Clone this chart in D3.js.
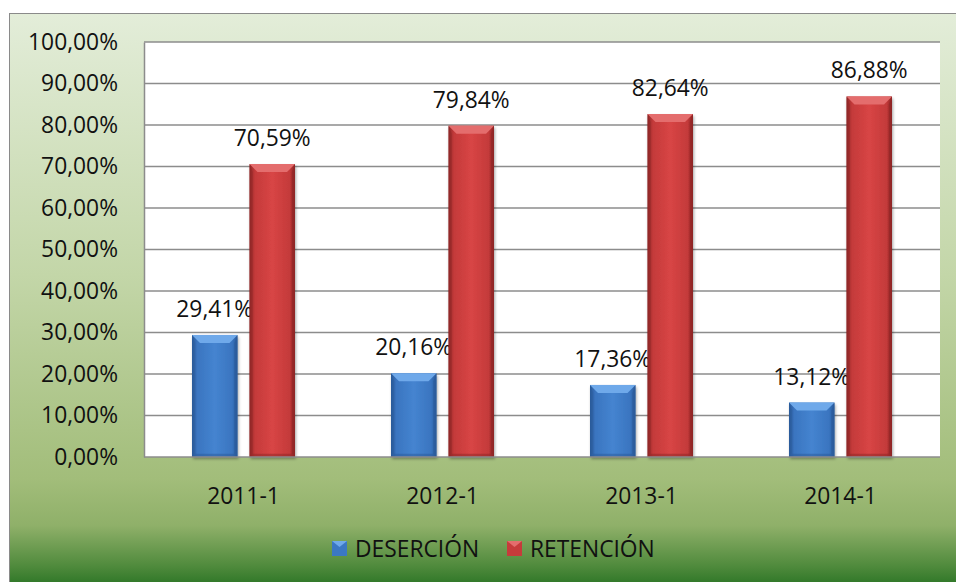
<!DOCTYPE html>
<html><head><meta charset="utf-8">
<script src="https://cdn.jsdelivr.net/npm/d3@7"></script>
<style>html,body{margin:0;padding:0;background:#fff;}svg{display:block;}</style>
</head><body>
<script>
const categories = ["2011-1","2012-1","2013-1","2014-1"];
const seriesNames = ["DESERCIÓN","RETENCIÓN"];
const desercion = [29.41, 20.16, 17.36, 13.12];
const retencion = [70.59, 79.84, 82.64, 86.88];
const tickValues = [0,10,20,30,40,50,60,70,80,90,100];

const W = 956, H = 582;
const font = "'Open Sans', sans-serif";
const fs = 22.8;
const svg = d3.select("body").append("svg").attr("width", W).attr("height", H);
const defs = svg.append("defs");

const bg = defs.append("linearGradient").attr("id","bg").attr("x1",0).attr("y1",0).attr("x2",0).attr("y2",1);
[[0,"#e3edd9"],[0.45,"#c3d6a8"],[0.8,"#a2bd7a"],[0.88,"#8fb069"],[0.95,"#4f8a3c"],[1,"#1b6b1b"]].forEach(s=>bg.append("stop").attr("offset",s[0]).attr("stop-color",s[1]));

function barGrad(id, c1, c2, c3){
  const g = defs.append("linearGradient").attr("id",id).attr("x1",0).attr("y1",0).attr("x2",1).attr("y2",0);
  [[0,c3],[0.12,c2],[0.5,c1],[0.88,c2],[1,c3]].forEach(s=>g.append("stop").attr("offset",s[0]).attr("stop-color",s[1]));
}
barGrad("gBlue","#4584d0","#3a75c0","#2a5a9a");
barGrad("gRed","#d84545","#c43a3a","#8e2626");
const colors = {"DESERCIÓN":{fill:"url(#gBlue)",top:"#6fa9ea",dark:"#2a5a9a",base:"#3b78c3"},
                "RETENCIÓN":{fill:"url(#gRed)",top:"#e46d6d",dark:"#8e2626",base:"#c63b3b"}};

const shadow = defs.append("filter").attr("id","sh").attr("x","-20%").attr("y","-10%").attr("width","140%").attr("height","130%");
shadow.append("feDropShadow").attr("dx",1).attr("dy",2).attr("stdDeviation",1.5).attr("flood-color","#000").attr("flood-opacity",0.35);

// outer background
svg.append("rect").attr("x",9.5).attr("y",13.5).attr("width",W).attr("height",H)
  .attr("fill","url(#bg)").attr("stroke","#8a8a8a").attr("stroke-width",1);

const plot = {l:144, t:42, r:940, b:457};
svg.append("rect").attr("x",plot.l).attr("y",plot.t).attr("width",plot.r-plot.l).attr("height",plot.b-plot.t).attr("fill","#fff");

const y = d3.scaleLinear().domain([0,100]).range([plot.b, plot.t]);
const x0 = d3.scaleBand().domain(categories).range([plot.l, plot.r]).paddingInner(0).paddingOuter(0);
const bw = 45.5, gap = 12;
const x1 = d3.scaleOrdinal().domain(seriesNames).range([-(gap/2+bw), gap/2]);

// gridlines
svg.append("g").selectAll("line").data(tickValues.filter(d=>d>0)).join("line")
  .attr("x1",plot.l).attr("x2",plot.r).attr("y1",d=>y(d)).attr("y2",d=>y(d))
  .attr("stroke","#8c8c8c").attr("stroke-width",1.5);

// y axis
const yAxis = d3.axisLeft(y).tickValues(tickValues).tickSize(0).tickPadding(26)
  .tickFormat(d=>d3.format(".2f")(d).replace(".",",")+"%");
const ga = svg.append("g").attr("transform",`translate(${plot.l},0)`).call(yAxis);
ga.select(".domain").attr("stroke","#8c8c8c").attr("stroke-width",1.5);
ga.selectAll("text").attr("font-family",font).attr("font-size",fs).attr("fill","#111");

// bars
const data = [];
categories.forEach((c,i)=>{
  data.push({cat:c, s:"DESERCIÓN", v:desercion[i]});
  data.push({cat:c, s:"RETENCIÓN", v:retencion[i]});
});
const bars = svg.append("g").selectAll("g").data(data).join("g")
  .attr("transform",d=>`translate(${x0(d.cat)+x0.bandwidth()/2 + x1(d.s)},0)`);
bars.append("rect").attr("x",0).attr("y",d=>y(d.v)).attr("width",bw).attr("height",d=>plot.b-y(d.v))
  .attr("fill",d=>colors[d.s].fill).attr("filter","url(#sh)");
// top bevel
const bev = 8;
bars.append("path").attr("d",d=>{const t=y(d.v);return `M0,${t}L${bw},${t}L${bw-bev},${t+bev}L${bev},${t+bev}Z`;})
  .attr("fill",d=>colors[d.s].top);
// side bevels
bars.append("path").attr("d",d=>{const t=y(d.v);return `M0,${t}L${bev*0.4},${t+bev}L${bev*0.4},${plot.b-bev*0.4}L0,${plot.b}Z`;})
  .attr("fill",d=>colors[d.s].dark).attr("opacity",0.45);
bars.append("path").attr("d",d=>{const t=y(d.v);return `M${bw},${t}L${bw-bev*0.4},${t+bev}L${bw-bev*0.4},${plot.b-bev*0.4}L${bw},${plot.b}Z`;})
  .attr("fill",d=>colors[d.s].dark).attr("opacity",0.6);
bars.append("path").attr("d",d=>`M0,${plot.b}L${bev*0.4},${plot.b-bev*0.4}L${bw-bev*0.4},${plot.b-bev*0.4}L${bw},${plot.b}Z`)
  .attr("fill",d=>colors[d.s].dark).attr("opacity",0.5);

// value labels
bars.append("text").attr("x",bw/2).attr("y",d=>y(d.v)-18).attr("text-anchor","middle")
  .attr("font-family",font).attr("font-size",fs).attr("fill","#111")
  .text(d=>d3.format(".2f")(d.v).replace(".",",")+"%");

// bottom axis line
svg.append("line").attr("x1",plot.l).attr("x2",plot.r).attr("y1",plot.b).attr("y2",plot.b)
  .attr("stroke","#8c8c8c").attr("stroke-width",1.5);

// x axis
const xAxis = d3.axisBottom(x0).tickSize(0).tickPadding(31);
const gx = svg.append("g").attr("transform",`translate(0,${plot.b})`).call(xAxis);
gx.select(".domain").remove();
gx.selectAll("text").attr("font-family",font).attr("font-size",fs).attr("fill","#111");

// legend
const legX = [332, 507];
const leg = svg.append("g").selectAll("g").data(seriesNames).join("g")
  .attr("transform",(d,i)=>`translate(${legX[i]},541)`);
leg.append("rect").attr("width",15).attr("height",15).attr("fill",d=>colors[d].base);
leg.append("path").attr("d","M0,0L15,0L7.5,6Z").attr("fill",d=>colors[d].top);
leg.append("text").attr("x",23).attr("y",15.5).attr("font-family",font).attr("font-size",fs).attr("fill","#111").text(d=>d);
</script>
</body></html>
